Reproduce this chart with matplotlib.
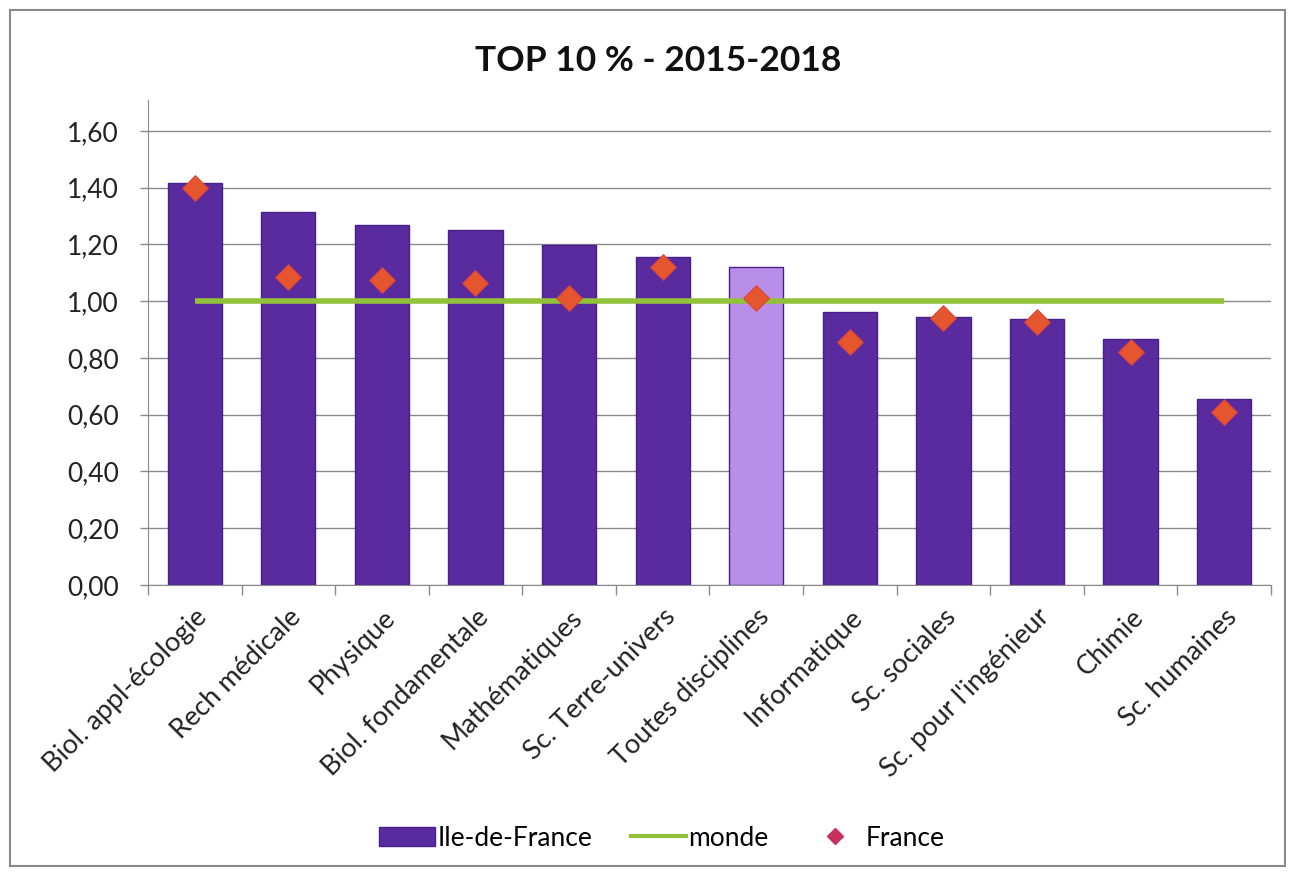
import matplotlib
matplotlib.use("Agg")
import matplotlib.pyplot as plt
from matplotlib.patches import Rectangle
from matplotlib.lines import Line2D
from matplotlib.patches import Patch

plt.rcParams['font.family'] = ['Lato', 'DejaVu Sans']

categories = ["Biol. appl-écologie", "Rech médicale", "Physique", "Biol. fondamentale",
              "Mathématiques", "Sc. Terre-univers", "Toutes disciplines", "Informatique",
              "Sc. sociales", "Sc. pour l'ingénieur", "Chimie", "Sc. humaines"]
idf = [1.417, 1.313, 1.269, 1.251, 1.198, 1.156, 1.120, 0.962, 0.944, 0.937, 0.867, 0.655]
france = [1.40, 1.085, 1.075, 1.064, 1.011, 1.12, 1.01, 0.856, 0.94, 0.927, 0.82, 0.61]
monde = [1.0] * len(categories)
yticks = [0.0, 0.2, 0.4, 0.6, 0.8, 1.0, 1.2, 1.4, 1.6]
title = "TOP 10 % - 2015-2018"
highlight = "Toutes disciplines"

bar_color = "#5a2b9f"
bar_edge = "#47208a"
light_color = "#b98ee8"
green = "#92c13a"
marker_color = "#e5562e"

fig = plt.figure(figsize=(12.9, 8.74), dpi=100)
ax = fig.add_axes([0.1147, 0.3307, 0.8705, 0.5549])

x = list(range(len(categories)))
colors = [light_color if c == highlight else bar_color for c in categories]
ax.bar(x, idf, width=0.58, color=colors, edgecolor=bar_edge, linewidth=1.0, zorder=2)
ax.plot(x, monde, color=green, linewidth=4, zorder=3, solid_capstyle='butt')
ax.scatter(x, france, marker='D', s=170, color=marker_color, edgecolor="#d9463a",
           linewidth=0.8, zorder=4)

ax.set_xlim(-0.5, len(categories) - 0.5)
ax.set_ylim(0, 1.709)
ax.set_yticks(yticks)
ax.set_yticklabels([f"{v:.2f}".replace('.', ',') for v in yticks], fontsize=19, color="#222222")
ax.yaxis.grid(True, color="#8a8a8a", linewidth=1.0, zorder=0)
ax.set_axisbelow(True)

ax.set_xticks(x)
ax.set_xticklabels(categories, rotation=45, ha='right', rotation_mode='anchor',
                   fontsize=19.5, color="#222222")
ax.tick_params(axis='x', length=0, pad=14)
ax.set_xticks([i - 0.5 for i in range(len(categories) + 1)], minor=True)
ax.tick_params(axis='x', which='minor', length=7, color="#8a8a8a", width=1)
ax.tick_params(axis='y', length=6, color="#8a8a8a", width=1, pad=15)

for s in ['top', 'right']:
    ax.spines[s].set_visible(False)
ax.spines['left'].set_color("#8a8a8a")
ax.spines['bottom'].set_color("#8a8a8a")

fig.text(0.51, 0.93, title, ha='center', va='center', fontsize=25.5, fontweight='bold', color="#111111")

handles = [Patch(facecolor=bar_color, edgecolor=bar_edge),
           Line2D([0], [0], color=green, linewidth=3),
           Line2D([0], [0], marker='D', color='none', markerfacecolor="#c8325a",
                  markeredgecolor="#c8325a", markersize=8)]
fig.legend(handles, ["Ile-de-France", "monde", "France"], loc='center',
           bbox_to_anchor=(0.513, 0.041), ncol=3, frameon=False, fontsize=19,
           handlelength=2.1, handleheight=0.7, handletextpad=0.1, columnspacing=1.45)

fig.patches.append(Rectangle((0.008, 0.009), 0.988, 0.98, transform=fig.transFigure,
                             fill=False, edgecolor="#8a8a8a", linewidth=1.5))

fig.savefig("out.png", dpi=100, facecolor="white")
